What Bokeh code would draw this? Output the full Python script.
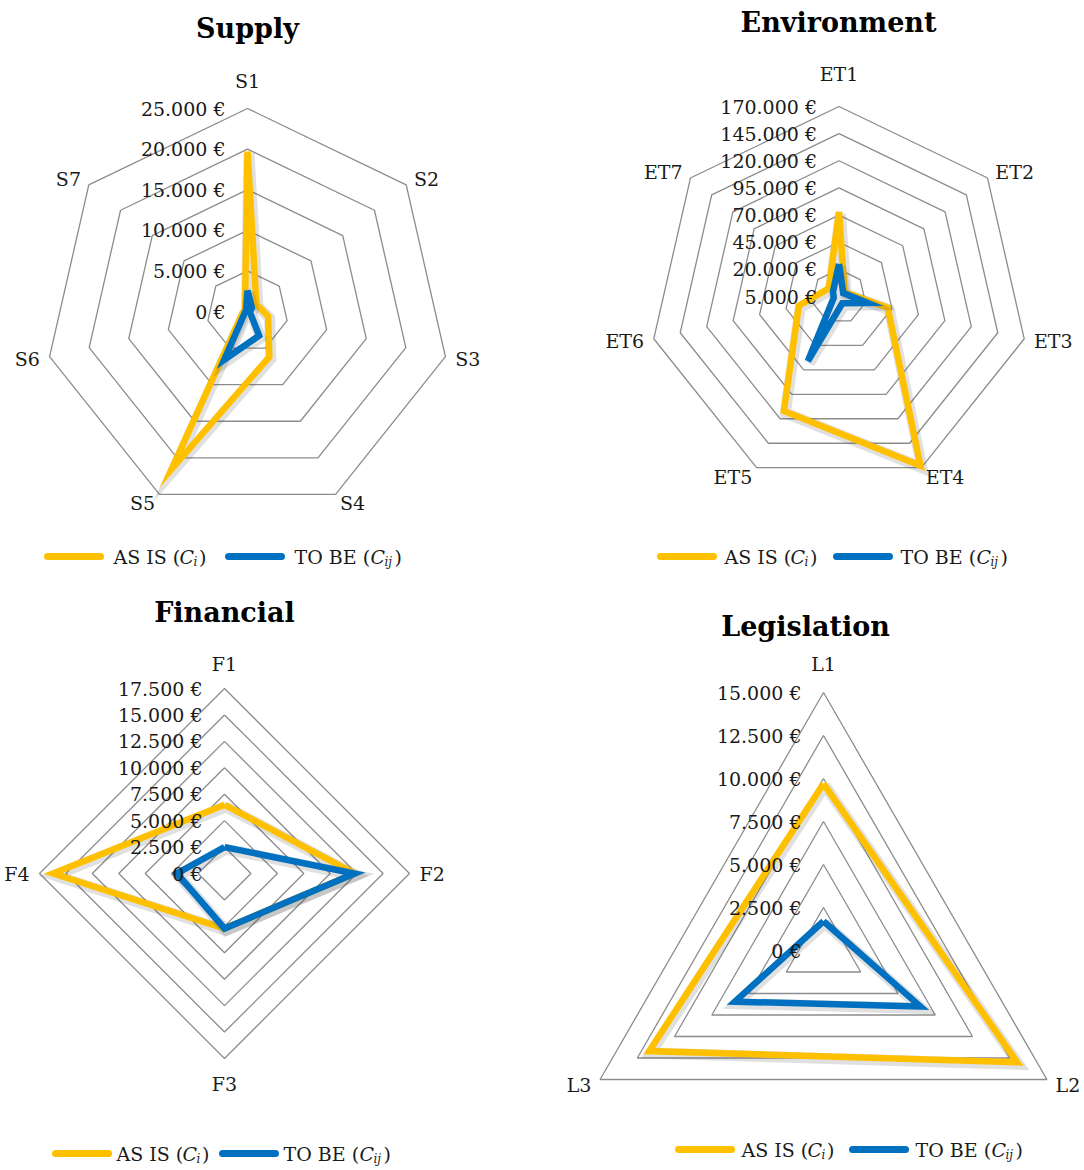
import math
from bokeh.plotting import figure
from bokeh.layouts import column, row
from bokeh.models import Range1d
from bokeh.embed import file_html
from bokeh.resources import INLINE
from bokeh.core.properties import value

# ---------------- data ----------------
supply_title = "Supply"
supply_cats = ["S1", "S2", "S3", "S4", "S5", "S6", "S7"]
supply_asis = [19700, 1400, 2600, 6200, 21500, 600, 400]
supply_tobe = [2600, 700, 300, 3300, 6600, 300, 200]
supply_ticks = [0, 5000, 10000, 15000, 20000, 25000]
supply_tick_labels = ["0 €", "5.000 €", "10.000 €", "15.000 €", "20.000 €", "25.000 €"]

env_title = "Environment"
env_cats = ["ET1", "ET2", "ET3", "ET4", "ET5", "ET6", "ET7"]
env_asis = [73000, 1500, 41000, 168000, 112000, 33000, 7000]
env_tobe = [25000, 0, 22000, 2000, 61000, 0, 2000]
env_ticks = [-5000, 20000, 45000, 70000, 95000, 120000, 145000, 170000]
env_tick_labels = ["5.000 €", "20.000 €", "45.000 €", "70.000 €", "95.000 €",
                   "120.000 €", "145.000 €", "170.000 €"]

fin_title = "Financial"
fin_cats = ["F1", "F2", "F3", "F4"]
fin_asis = [6500, 12300, 5200, 16200]
fin_tobe = [2500, 12300, 5200, 4500]
fin_ticks = [0, 2500, 5000, 7500, 10000, 12500, 15000, 17500]
fin_tick_labels = ["0 €", "2.500 €", "5.000 €", "7.500 €", "10.000 €",
                   "12.500 €", "15.000 €", "17.500 €"]

leg_title = "Legislation"
leg_cats = ["L1", "L2", "L3"]
leg_asis = [9700, 13000, 11700]
leg_tobe = [1700, 6500, 5950]
leg_ticks = [0, 2500, 5000, 7500, 10000, 12500, 15000]
leg_tick_labels = ["0 €", "2.500 €", "5.000 €", "7.500 €", "10.000 €", "12.500 €", "15.000 €"]

series_names = ["AS IS", "TO BE"]
series_subs = ["i", "ij"]

# ---------------- style ----------------
YELLOW = "#FFC000"
BLUE = "#0070C0"
GRID = "#8c8c8c"
TXT = "#1a1a1a"
FONT = "DejaVu Serif"
FS = "19px"


def make_panel(title, cats, asis, tobe, ticks, tick_labels, w, h, cx, cy, R,
               title_xy, legend_xy, blue_dx, top_gap, text_dx):
    vmin, vmax = ticks[0], ticks[-1]
    n = len(cats)
    p = figure(width=w, height=h, output_backend="svg", toolbar_location=None,
               x_range=Range1d(-cx / R, (w - cx) / R),
               y_range=Range1d(-(h - cy) / R, cy / R),
               min_border=0)
    p.axis.visible = False
    p.grid.visible = False
    p.outline_line_color = None
    p.background_fill_color = "white"

    def px(xp, yp):
        return (xp - cx) / R, (cy - yp) / R

    angs = [math.pi / 2 - 2 * math.pi * k / n for k in range(n)]

    def poly(vals):
        xs, ys = [], []
        for v, a in zip(vals, angs):
            r = (v - vmin) / (vmax - vmin)
            xs.append(r * math.cos(a))
            ys.append(r * math.sin(a))
        xs.append(xs[0])
        ys.append(ys[0])
        return xs, ys

    # grid rings
    for t in ticks[1:]:
        xs, ys = poly([t] * n)
        p.line(xs, ys, line_color=GRID, line_width=1.3)

    # series with soft shadow
    for vals, col in ((asis, YELLOW), (tobe, BLUE)):
        xs, ys = poly(vals)
        sx = [x + 1.5 / R for x in xs]
        sy = [y - 2.0 / R for y in ys]
        p.line(sx, sy, line_color="#555555", line_alpha=0.18, line_width=11,
               line_join="miter")
        p.line(xs, ys, line_color=col, line_width=6.5, line_join="miter")

    # tick labels along the first axis
    for t, lab in zip(ticks, tick_labels):
        r = (t - vmin) / (vmax - vmin)
        p.text(x=[0], y=[r], text=[lab], text_font=value(FONT), text_font_size=FS,
               text_align="right", text_baseline="middle", x_offset=-22,
               text_color=TXT)

    # category labels
    for c, a in zip(cats, angs):
        ux, uy = math.cos(a), math.sin(a)
        if uy > 0.95:
            gap, base = top_gap, "bottom"
        elif uy < -0.95:
            gap, base = top_gap, "top"
        else:
            gap, base = 10, "middle"
        align = "left" if ux > 0.1 else ("right" if ux < -0.1 else "center")
        p.text(x=[ux], y=[uy], text=[c], text_font=value(FONT), text_font_size=FS,
               text_align=align, text_baseline=base, x_offset=ux * gap,
               y_offset=-uy * gap, text_color=TXT)

    # title
    tx, ty = px(*title_xy)
    p.text(x=[tx], y=[ty], text=[title], text_font=value(FONT), text_font_size="27px",
           text_font_style="bold", text_align="center", text_baseline="middle",
           text_color="#000000")

    # legend
    lx, ly = legend_xy
    for i, (col, name, sub) in enumerate(zip((YELLOW, BLUE), series_names, series_subs)):
        x0 = lx + i * blue_dx
        ax, ay = px(x0, ly)
        bx, _ = px(x0 + 53, ly)
        p.line([ax, bx], [ay, ay], line_color=col, line_width=7, line_cap="round")
        t0x, t0y = px(x0 + text_dx, ly)
        base_w = 65 if i == 0 else 75
        p.text(x=[t0x], y=[t0y], text=[name + " ("], text_font=value(FONT),
               text_font_size=FS, text_align="left", text_baseline="middle",
               text_color=TXT)
        p.text(x=[t0x], y=[t0y], text=["C"], text_font=value(FONT), text_font_size=FS,
               text_font_style="italic", text_align="left", text_baseline="middle",
               x_offset=base_w + 1, text_color=TXT)
        p.text(x=[t0x], y=[t0y], text=[sub], text_font=value(FONT), text_font_size="12px",
               text_font_style="italic", text_align="left", text_baseline="middle",
               x_offset=base_w + 15, y_offset=5, text_color=TXT)
        p.text(x=[t0x], y=[t0y], text=[")"], text_font=value(FONT), text_font_size=FS,
               text_align="left", text_baseline="middle",
               x_offset=base_w + 16 + 4.5 * len(sub), text_color=TXT)
    return p


f1 = make_panel(supply_title, supply_cats, supply_asis, supply_tobe, supply_ticks,
                supply_tick_labels, 548, 590, 247, 311, 203,
                (247, 28), (47, 556), 181, 17, 66)
f2 = make_panel(env_title, env_cats, env_asis, env_tobe, env_ticks, env_tick_labels,
                536, 590, 290.5, 296, 190, (290, 22), (112, 556), 176, 22, 64)
f3 = make_panel(fin_title, fin_cats, fin_asis, fin_tobe, fin_ticks, fin_tick_labels,
                548, 580, 224, 283, 185, (224, 22), (55, 563), 167, 14, 61)
f4 = make_panel(leg_title, leg_cats, leg_asis, leg_tobe, leg_ticks, leg_tick_labels,
                536, 580, 275, 360, 258, (257, 36), (130, 559), 174, 18, 63)

layout = column(row(f1, f2), row(f3, f4))
open("out.html", "w").write(file_html(layout, INLINE))
